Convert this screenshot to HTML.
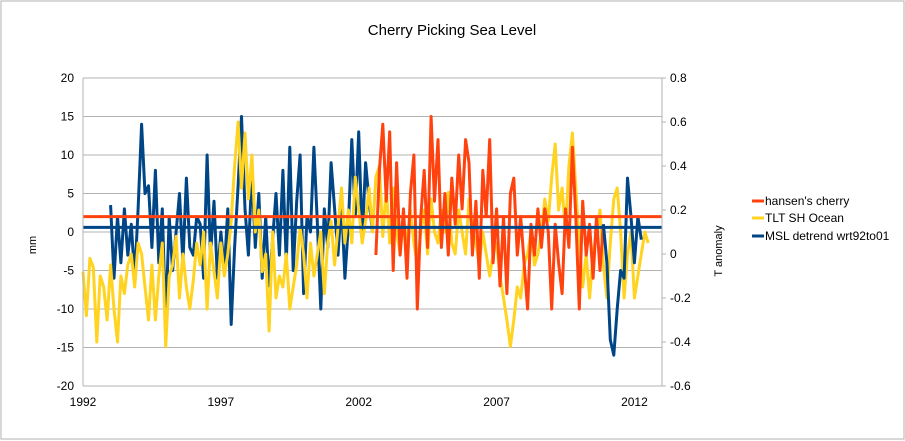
<!DOCTYPE html>
<html><head><meta charset="utf-8"><style>
body{margin:0;background:#fff}
svg{display:block;font-family:"Liberation Sans",sans-serif}
</style></head><body>
<svg id="c" width="905" height="441">
<rect x="1" y="1" width="903" height="438" fill="#fff" stroke="#b0b0b0"/>
<text x="452" y="35" text-anchor="middle" font-size="15">Cherry Picking Sea Level</text>
<g id="grid"></g>
<g id="series"></g>
<g id="axes"></g>
<text transform="translate(36,245) rotate(-90)" text-anchor="middle" font-size="11">mm</text>
<text transform="translate(722,251) rotate(-90)" text-anchor="middle" font-size="11">T anomaly</text>
<g>
<line x1="752" y1="201" x2="764" y2="201" stroke="#ff420e" stroke-width="3"/>
<text x="765" y="205" font-size="12">hansen's cherry</text>
<line x1="752" y1="218" x2="764" y2="218" stroke="#ffd320" stroke-width="3"/>
<text x="765" y="222" font-size="12">TLT SH Ocean</text>
<line x1="752" y1="236" x2="764" y2="236" stroke="#004586" stroke-width="3"/>
<text x="765" y="240" font-size="12">MSL detrend wrt92to01</text>
</g>
</svg>
<script>
const yTicks=[20,15,10,5,0,-5,-10,-15,-20];
const y2Ticks=[0.8,0.6,0.4,0.2,0,-0.2,-0.4,-0.6];
const xTicks=[1992,1997,2002,2007,2012];
const step=0.125;
const mslStart=1993.0;
const mslEarly=[3.5,-6,2,-4,3,-3,1,-6, 3,14,5,6,-2,8,-4,3, -12,2,-5,0,5,-4,7,-2, -3,2,1,-6,10,-3,4,-6, 0,-5,3,-12,-2,6,15,3, -3,8,-2,5,-6,2,-7,-1, 5,-3,8,-4,11,-5,4,10, -8,2,0,11,1,-10,3,-2, 9,3,-3,4,-6,1,12,2, 13,-1,9,4,0];
const cherryStart=2002.625;
const cherry=[-3,8,14, 4,13,-5,9,-3,3,-6,5, 10,-10,2,8,-2,15,4,12, -2,5,-3,7,1,10,3,12, 9,-3,4,-6,8,2,12,-4, 3,-7,2,-8,5,7,-3,2, -4,-10,1,-3,3,-2,3,0, -10,1,-4,-8,3,-2,11,2, -10,4,-3,1,-6,2,-5,1];
const mslLateStart=2010.875;
const mslLate=[1,-4,-14,-16,-10,-5,-6,7,2,-4,2,-1];
const tltStart=1992.0;
const tlt=[-0.08,-0.28,-0.02,-0.06,-0.4,-0.1,-0.15,-0.3, -0.05,-0.25,-0.4,-0.1,-0.18,-0.05,0.0,-0.15, 0.05,0.0,-0.15,-0.3,-0.05,-0.3,-0.1,0.05, -0.42,-0.1,-0.05,0.08,-0.2,0.0,-0.15,-0.25, -0.12,0.05,-0.05,0.1,-0.25,0.05,-0.08,-0.2, 0.05,-0.1,0.0,0.15,0.4,0.6,0.3,0.55, 0.25,0.45,0.1,0.2,-0.08,0.0,-0.35,0.1, -0.2,-0.1,-0.15,0.0,-0.25,-0.15,-0.05,0.12, 0.0,-0.2,0.05,-0.1,0.0,0.1,-0.18,0.05, 0.15,-0.05,0.12,0.3,0.05,0.2,0.05,0.35, 0.2,0.05,0.15,0.3,0.1,0.35,0.4,0.08, 0.3,0.05,0.3,0.1,0.0,0.15,0.05,0.2, 0.05,-0.05,0.1,0.2,0.0,0.25,0.1,0.05, 0.2,0.1,0.28,0.05,0.0,0.2,0.1,0.0, 0.25,0.12,0.05,-0.05,0.1,0.0,-0.1,0.0, 0.05,-0.1,-0.2,-0.3,-0.42,-0.3,-0.15,-0.2, -0.05,0.0,0.1,-0.05,0.0,0.1,0.25,0.15, 0.35,0.5,0.2,0.3,0.1,0.4,0.55,0.3, 0.05,-0.15,0.0,-0.2,0.0,0.1,0.2,-0.05, -0.2,0.05,0.25,0.3,0.1,-0.2,0.0,0.1, -0.2,-0.1,0.0,0.1,0.05];
const cherryMean=2.0;
const mslMean=0.6;

const L=83,R=662,T=78,B=386,x0=1992,x1=2013.0;
const X=v=>L+(v-x0)*(R-L)/(x1-x0);
const Y=v=>T+(20-v)*(B-T)/40;
const Y2=v=>T+(0.8-v)*(B-T)/1.4;
const NS='http://www.w3.org/2000/svg';
function mk(tag,at,parent){const e=document.createElementNS(NS,tag);for(const k in at)e.setAttribute(k,at[k]);parent.appendChild(e);return e;}
const grid=document.getElementById('grid'),axes=document.getElementById('axes'),ser=document.getElementById('series');
yTicks.forEach(t=>{
  const g=mk('line',{x1:L,x2:R,y1:Y(t),y2:Y(t),stroke:'#b3b3b3','stroke-width':1},grid);
  
  
  const tx=mk('text',{x:L-9,y:Y(t)+4,'text-anchor':'end','font-size':12},axes);
  tx.textContent=t;
  
  
});
y2Ticks.forEach(t=>{
  const tk=mk('line',{x1:R,x2:R+4,y1:Y2(t),y2:Y2(t),stroke:'#b3b3b3'},axes);
  
  
  const tx=mk('text',{x:R+8,y:Y2(t)+4,'font-size':12},axes);
  tx.textContent=(t===0?'0':t.toFixed(1));
  
  
});
xTicks.forEach(t=>{
  const tx=mk('text',{x:X(t),y:B+20,'text-anchor':'middle','font-size':12},axes);
  tx.textContent=t;
  
  
});
const la=mk('line',{x1:L,x2:L,y1:T,y2:B,stroke:'#b3b3b3'},axes);


const ra=mk('line',{x1:R,x2:R,y1:T,y2:B,stroke:'#b3b3b3'},axes);


function line(arr,start,yf,color,name){
  const d=arr.map((v,i)=>(i?'L':'M')+X(start+i*step).toFixed(1)+','+yf(v).toFixed(1)).join('');
  const p=mk('path',{d:d,fill:'none',stroke:color,'stroke-width':3,'stroke-linejoin':'round'},ser);
  
  
}
line(mslEarly,mslStart,Y,'#004586','msl-detrend-line-early');
line(tlt,tltStart,Y2,'#ffd320','tlt-sh-ocean-line');
line(cherry,cherryStart,Y,'#ff420e','hansens-cherry-line');
line(mslLate,mslLateStart,Y,'#004586','msl-detrend-line-late');
const m1=mk('line',{x1:L,x2:R,y1:Y(cherryMean),y2:Y(cherryMean),stroke:'#ff420e','stroke-width':3},ser);


const m2=mk('line',{x1:L,x2:R,y1:Y(mslMean),y2:Y(mslMean),stroke:'#004586','stroke-width':3},ser);


</script>
</body></html>
